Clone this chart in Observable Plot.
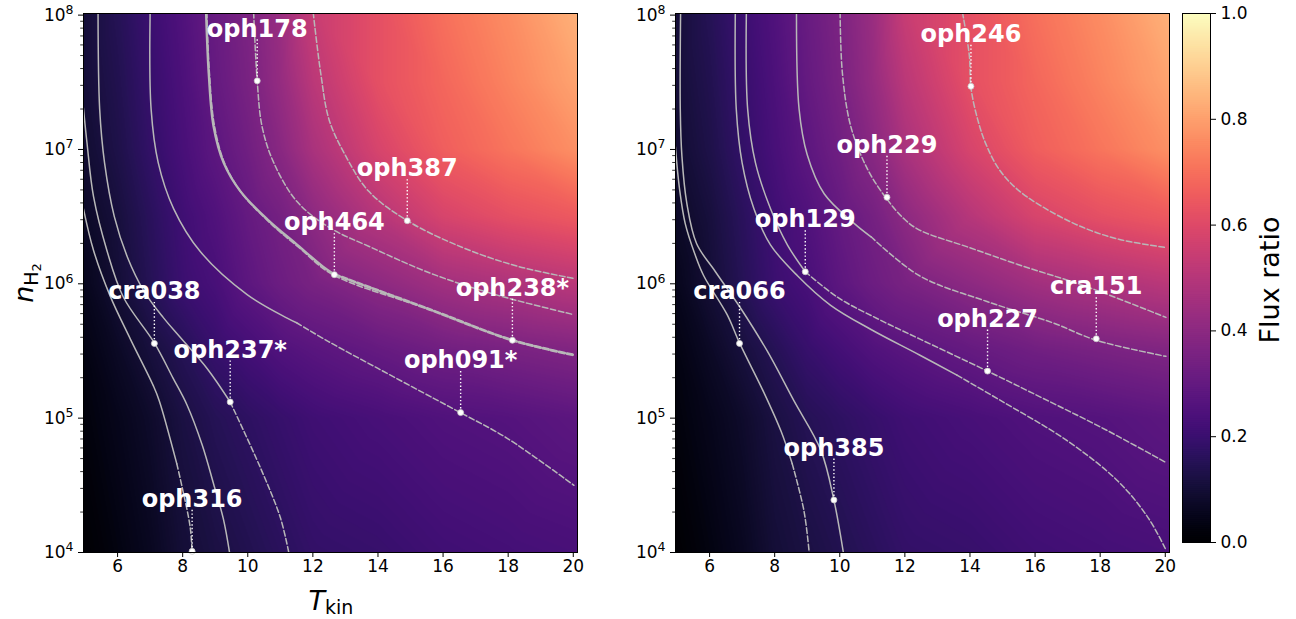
<!DOCTYPE html>
<html><head><meta charset="utf-8">
<script src="https://cdn.jsdelivr.net/npm/d3@7"></script>
<script src="https://cdn.jsdelivr.net/npm/@observablehq/plot@0.6"></script>
<style>
body{margin:0;background:#fff;font-family:"DejaVu Sans",sans-serif;}
#fig{position:relative;width:1296px;height:619px;overflow:hidden;background:#fff;}
#fig svg{position:absolute;top:0;}
</style></head><body><div id="fig"></div>
<script>
// ---------- flux-ratio map samples (T_kin x log10 n_H2) ----------
const tempGrid = [4.9, 6, 7, 8, 9, 10, 11, 12, 14, 16, 18, 20.2];
const logDensityGrid = [3.98, 5, 5.5, 6, 6.5, 7, 7.5, 8.03];
const ratio_n4   = [0.00, 0.03, 0.06, 0.10, 0.12, 0.14, 0.16, 0.18, 0.19, 0.21, 0.22, 0.23];
const ratio_n5   = [0.02, 0.05, 0.08, 0.12, 0.15, 0.17, 0.19, 0.21, 0.23, 0.25, 0.26, 0.28];
const ratio_n5_5 = [0.03, 0.07, 0.11, 0.15, 0.19, 0.22, 0.25, 0.27, 0.30, 0.33, 0.35, 0.37];
const ratio_n6   = [0.05, 0.10, 0.15, 0.20, 0.23, 0.28, 0.32, 0.35, 0.40, 0.45, 0.48, 0.51];
const ratio_n6_5 = [0.07, 0.11, 0.16, 0.21, 0.25, 0.30, 0.34, 0.40, 0.50, 0.58, 0.62, 0.65];
const ratio_n7   = [0.09, 0.13, 0.18, 0.23, 0.28, 0.33, 0.39, 0.47, 0.58, 0.66, 0.71, 0.77];
const ratio_n7_5 = [0.10, 0.14, 0.19, 0.24, 0.30, 0.35, 0.42, 0.51, 0.62, 0.68, 0.74, 0.81];
const ratio_n8   = [0.10, 0.15, 0.20, 0.25, 0.31, 0.36, 0.43, 0.54, 0.62, 0.70, 0.76, 0.84];
const ratioRows = [ratio_n4, ratio_n5, ratio_n5_5, ratio_n6, ratio_n6_5, ratio_n7, ratio_n7_5, ratio_n8];

// ---------- axis ticks ----------
const xTicks = [6, 8, 10, 12, 14, 16, 18, 20];
const yTicks = [1e4, 1e5, 1e6, 1e7, 1e8];
const cbTicks = [0, 0.2, 0.4, 0.6, 0.8, 1.0];

// ---------- left panel contour tracks [T_kin, log10 n] ----------
const L_oph316_solid = [[4.95,6.56],[5.26,6.25],[5.77,5.91],[6.39,5.59],[7.1,5.24],[7.28,5.13],[7.82,4.66]];
const L_oph316_dash  = [[7.82,4.66],[7.98,4.49],[8.23,4.19],[8.29,4.0]];
const L_cra038_solid = [[4.95,7.31],[5.06,7.05],[5.26,6.65],[5.67,6.25],[6.18,5.9],[7.13,5.56],[7.7,5.3],[8.13,5.1],[8.6,4.8],[8.95,4.51],[9.25,4.25],[9.44,4.0]];
const L_oph237_solid = [[5.4,8.02],[5.45,7.3],[5.6,6.9],[5.9,6.5],[6.3,6.2],[6.8,5.95],[7.4,5.75],[7.93,5.6],[8.75,5.37],[9.46,5.12]];
const L_oph237_dash  = [[9.46,5.12],[10.39,4.63],[11.0,4.26],[11.26,4.0]];
const L_oph091_solid = [[7.0,8.02],[7.03,7.3],[7.25,6.9],[7.72,6.56],[8.54,6.24],[9.98,5.92],[11.21,5.745],[11.5,5.71]];
const L_oph091_dash  = [[11.5,5.71],[12.48,5.57],[14.0,5.37],[15.77,5.14],[16.54,5.04],[17.97,4.85],[20.02,4.5]];
const L_oph464_solid = [[8.72,8.02],[8.8,7.57],[8.95,7.17],[9.26,6.9],[9.77,6.69],[10.6,6.48],[11.52,6.29],[12.3,6.13],[12.66,6.07]];
const L_oph464_dash  = [[12.66,6.07],[15.58,5.81],[18.13,5.58],[20.02,5.47]];
const L_oph238_dash  = [[8.74,8.02],[8.82,7.57],[8.98,7.17],[9.3,6.89],[9.83,6.67],[10.7,6.45],[11.62,6.26],[12.6,6.07],[15.58,5.81],[18.13,5.58],[20.02,5.47]];
const L_oph178_dash  = [[10.18,8.02],[10.29,7.51],[10.44,7.17],[10.8,6.9],[11.52,6.61],[12.5,6.42],[13.8,6.27],[15.6,6.08],[17.6,5.92],[20.02,5.77]];
const L_oph387_dash  = [[12.01,8.02],[12.24,7.57],[12.5,7.22],[12.99,6.96],[13.71,6.69],[14.9,6.47],[16.6,6.27],[18.3,6.13],[20.02,6.04]];

// ---------- right panel contour tracks ----------
const R_cra066_solid = [[4.95,7.02],[5.08,6.7],[5.25,6.45],[5.55,6.22],[5.82,6.06],[6.54,5.77],[6.92,5.56],[7.67,5.19],[8.2,4.9],[8.54,4.66]];
const R_cra066_dash  = [[8.54,4.66],[8.9,4.31],[9.06,4.0]];
const R_oph385_solid = [[5.11,8.02],[5.1,7.3],[5.15,6.95],[5.3,6.6],[5.6,6.3],[6.18,6.09],[6.95,5.82],[7.77,5.5],[8.59,5.13],[9.42,4.76],[9.82,4.39],[10.11,4.0]];
const R_oph227_solid = [[6.79,8.02],[6.82,7.3],[7.0,6.9],[7.36,6.56],[7.87,6.29],[8.7,6.06],[9.72,5.84],[10.96,5.66],[12.45,5.47],[13.6,5.32]];
const R_oph227_dash  = [[13.6,5.32],[14.95,5.13],[17.0,4.83],[18.55,4.53],[19.47,4.26],[20.0,4.03]];
const R_oph129_solid = [[7.13,8.02],[7.17,7.3],[7.41,6.9],[7.87,6.56],[8.39,6.29],[8.94,6.09]];
const R_oph129_dash  = [[8.94,6.09],[9.93,5.9],[11.16,5.74],[12.45,5.59],[14.54,5.35],[16.39,5.13],[18.2,4.91],[20.02,4.67]];
const R_cra151_solid = [[8.67,8.02],[8.75,7.3],[9.0,6.96],[9.52,6.67],[10.44,6.45],[10.96,6.35]];
const R_cra151_dash  = [[10.96,6.35],[12.45,6.06],[14.5,5.87],[16.54,5.71],[17.88,5.58],[20.02,5.46]];
const R_oph229_dash  = [[10.01,8.02],[10.08,7.57],[10.34,7.17],[10.86,6.85],[11.45,6.63],[11.99,6.48],[12.45,6.4],[13.98,6.27],[15.52,6.14],[17.57,5.98],[20.02,5.75]];
const R_oph246_dash  = [[13.77,8.02],[13.98,7.7],[14.03,7.46],[14.24,7.22],[14.49,7.04],[14.9,6.85],[15.52,6.69],[16.54,6.53],[17.57,6.41],[18.6,6.33],[20.02,6.27]];

// ---------- sources ----------
const leftNames = ["oph178", "oph387", "oph464", "oph238*", "cra038", "oph237*", "oph091*", "oph316"];
const leftT     = [10.29, 14.9, 12.66, 18.13, 7.13, 9.46, 16.54, 8.29];
const leftN     = [3.24e7, 2.95e6, 1.17e6, 3.8e5, 3.6e5, 1.32e5, 1.1e5, 1.02e4];
const rightNames = ["oph246", "oph229", "oph129", "cra066", "cra151", "oph227", "oph385"];
const rightT     = [14.03, 11.45, 8.94, 6.92, 17.88, 14.54, 9.82];
const rightN     = [2.95e7, 4.4e6, 1.23e6, 3.6e5, 3.9e5, 2.24e5, 2.46e4];

// ---------- build tables ----------
const fluxSamples = [];
logDensityGrid.forEach((lg, i) => tempGrid.forEach((t, j) => fluxSamples.push({T: t, n: 10 ** lg, v: ratioRows[i][j]})));
const leftSources = leftNames.map((s, i) => ({name: s, T: leftT[i], n: leftN[i]}));
const rightSources = rightNames.map((s, i) => ({name: s, T: rightT[i], n: rightN[i]}));
const minorY = [];
for (let k = 4; k < 8; k++) for (let m = 2; m <= 9; m++) minorY.push(m * 10 ** k);

const xDomain = [4.953, 20.13];
const yDomain = [1e4, 10 ** 8.012];
const LINE = "#b8b8b8";
const DASH = "5.6,2.6";

const leftTracks = [
  {pts: L_oph316_solid}, {pts: L_oph316_dash, dash: true},
  {pts: L_cra038_solid},
  {pts: L_oph237_solid}, {pts: L_oph237_dash, dash: true},
  {pts: L_oph091_solid}, {pts: L_oph091_dash, dash: true},
  {pts: L_oph238_dash, dash: true, w: 1.6},
  {pts: L_oph464_solid, w: 2.4}, {pts: L_oph464_dash, dash: true, w: 2.8},
  {pts: L_oph178_dash, dash: true},
  {pts: L_oph387_dash, dash: true}
];
const rightTracks = [
  {pts: R_cra066_solid}, {pts: R_cra066_dash, dash: true},
  {pts: R_oph385_solid},
  {pts: R_oph227_solid}, {pts: R_oph227_dash, dash: true},
  {pts: R_oph129_solid}, {pts: R_oph129_dash, dash: true},
  {pts: R_cra151_solid}, {pts: R_cra151_dash, dash: true},
  {pts: R_oph229_dash, dash: true},
  {pts: R_oph246_dash, dash: true}
];

function panel(tracks, sources) {
  const marks = [
    Plot.raster(fluxSamples, {x: "T", y: "n", fill: "v", interpolate: "barycentric"})
  ];
  for (const t of tracks) {
    marks.push(Plot.line(t.pts, {
      x: d => d[0], y: d => 10 ** d[1], stroke: LINE, strokeWidth: t.w || 1.5, curve: "catmull-rom",
      strokeDasharray: t.dash ? DASH : null, clip: true
    }));
  }
  marks.push(
    Plot.ruleY(minorY, {y: d => d, x1: () => xDomain[0], x2: () => xDomain[0], insetLeft: -2.8, stroke: "black", strokeWidth: 0.8}),
    Plot.ruleX(sources, {x: "T", y1: "n", y2: "n", insetTop: -41, insetBottom: 3, stroke: "white", strokeWidth: 1.4, strokeDasharray: "1.4,2.2"}),
    Plot.dot(sources, {x: "T", y: "n", r: 3, fill: "white", stroke: "#c8c8c8", strokeWidth: 0.8}),
    Plot.text(sources, {x: "T", y: "n", text: "name", dy: -52, fill: "white", fontSize: 24, fontWeight: "bold", fontFamily: "DejaVu Sans"}),
    Plot.frame({stroke: "black", strokeWidth: 1})
  );
  return Plot.plot({
    width: 590, height: 619,
    marginLeft: 83, marginRight: 13, marginTop: 13, marginBottom: 67,
    style: {fontFamily: "DejaVu Sans", fontSize: "17px", background: "transparent", color: "black"},
    x: {domain: xDomain, ticks: xTicks, tickSize: 5, tickPadding: 2, label: null},
    y: {type: "log", domain: yDomain, ticks: yTicks, tickSize: 5, tickPadding: 5, label: null,
        tickFormat: d => "10^" + Math.round(Math.log10(d))},
    color: {type: "linear", scheme: "magma", domain: [0, 1]},
    marks
  });
}

function superscripts(svg) {
  d3.select(svg).selectAll("text").each(function () {
    const m = /^10\^(\d+)$/.exec(this.textContent);
    if (!m) return;
    const sel = d3.select(this);
    sel.text(null);
    sel.append("tspan").text("10");
    sel.append("tspan").attr("font-size", "12.5px").attr("dy", "-6.5").text(m[1]);
  });
}

const fig = document.getElementById("fig");

const left = panel(leftTracks, leftSources);
superscripts(left);
left.style.left = "0px";
fig.appendChild(left);
// axis titles (left panel only)
const ls = d3.select(left);
const xl = ls.append("text").attr("x", 331).attr("y", 610).attr("text-anchor", "middle").attr("font-family", "DejaVu Sans").attr("fill", "black");
xl.append("tspan").attr("font-size", "27px").attr("font-style", "italic").text("T");
xl.append("tspan").attr("font-size", "19px").attr("dy", "4").text("kin");
const yl = ls.append("text").attr("transform", "translate(33,283) rotate(-90)").attr("text-anchor", "middle").attr("font-family", "DejaVu Sans").attr("fill", "black");
yl.append("tspan").attr("font-size", "27px").attr("font-style", "italic").text("n");
yl.append("tspan").attr("font-size", "19px").attr("dy", "5").text("H");
yl.append("tspan").attr("font-size", "13px").attr("dy", "3").text("2");

const right = panel(rightTracks, rightSources);
superscripts(right);
right.style.left = "592px";
fig.appendChild(right);

// colour bar
const cbSteps = d3.range(0, 1, 1 / 256);
const cb = Plot.plot({
  width: 146, height: 619,
  marginLeft: 32, marginRight: 86, marginTop: 13, marginBottom: 77,
  style: {fontFamily: "DejaVu Sans", fontSize: "17px", background: "transparent", color: "black"},
  x: {domain: [0, 1], axis: null},
  y: {domain: [0, 1], axis: "right", ticks: cbTicks, tickFormat: d => d.toFixed(1), tickSize: 5, tickPadding: 5, label: null},
  color: {type: "linear", scheme: "magma", domain: [0, 1]},
  marks: [
    Plot.rect(cbSteps, {x1: () => 0, x2: () => 1, y1: d => d, y2: d => Math.min(1, d + 1.6 / 256), fill: d => d + 0.5 / 256}),
    Plot.frame({stroke: "black", strokeWidth: 1})
  ]
});
cb.style.left = "1150px";
fig.appendChild(cb);
d3.select(cb).append("text").attr("transform", "translate(129,280) rotate(-90)").attr("text-anchor", "middle")
  .attr("font-family", "DejaVu Sans").attr("font-size", "27px").attr("fill", "black").text("Flux ratio");
</script></body></html>
